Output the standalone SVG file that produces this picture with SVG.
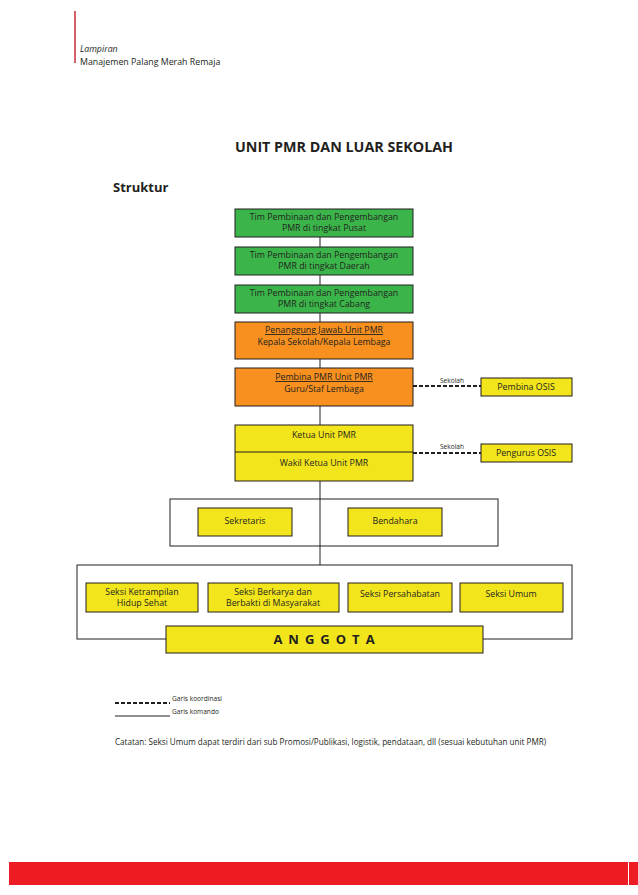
<svg xmlns="http://www.w3.org/2000/svg" width="638" height="895" viewBox="0 0 638 895">
<style>
text{font-family:"Open Sans","Noto Sans","DejaVu Sans",sans-serif;fill:#231f20}
.n{stroke:#231f20;stroke-width:1}
.g{fill:#3bb54a}
.o{fill:#f7901e}
.y{fill:#f3e51b}
.t{font-size:8.8px;text-anchor:middle}
.s{font-size:6.6px}
.c{fill:none;stroke:#231f20;stroke-width:1}
.d{fill:none;stroke:#231f20;stroke-width:2;stroke-dasharray:4,2}
</style>
<rect width="638" height="895" fill="#fff"/>
<rect x="74" y="11" width="2" height="52" fill="#d6616b"/>
<text x="80" y="52" font-size="8.8" font-style="italic">Lampiran</text>
<text x="80" y="65" font-size="8.8">Manajemen Palang Merah Remaja</text>
<rect x="9" y="862" width="619" height="23" fill="#ed1c24"/>
<rect x="629" y="862" width="9" height="23" fill="#ed1c24"/>
<text x="344" y="152" font-size="14.3" font-weight="bold" text-anchor="middle">UNIT PMR DAN LUAR SEKOLAH</text>
<text x="113" y="192" font-size="13" font-weight="bold">Struktur</text>

<g id="connectors">
<line class="c" x1="320" y1="237" x2="320" y2="565"/>
<line class="d" x1="413" y1="386" x2="481" y2="386"/>
<line class="d" x1="413" y1="453" x2="481" y2="453"/>
<text x="452" y="383" class="s" text-anchor="middle">Sekolah</text>
<text x="452" y="449" class="s" text-anchor="middle">Sekolah</text>
</g>

<g id="pusat"><rect class="n g" x="235" y="209" width="178" height="28"/>
<text class="t" x="324" y="220">Tim Pembinaan dan Pengembangan</text><text class="t" x="324" y="231">PMR di tingkat Pusat</text></g>
<g id="daerah"><rect class="n g" x="235" y="247" width="178" height="28"/>
<text class="t" x="324" y="258">Tim Pembinaan dan Pengembangan</text><text class="t" x="324" y="269">PMR di tingkat Daerah</text></g>
<g id="cabang"><rect class="n g" x="235" y="285" width="178" height="28"/>
<text class="t" x="324" y="296">Tim Pembinaan dan Pengembangan</text><text class="t" x="324" y="307">PMR di tingkat Cabang</text></g>
<g id="penanggung"><rect class="n o" x="235" y="322" width="178" height="37"/>
<text class="t" x="324" y="333" text-decoration="underline">Penanggung Jawab Unit PMR</text><text class="t" x="324" y="345">Kepala Sekolah/Kepala Lembaga</text></g>
<g id="pembina"><rect class="n o" x="235" y="368" width="178" height="38"/>
<text class="t" x="324" y="380" text-decoration="underline">Pembina PMR Unit PMR</text><text class="t" x="324" y="392">Guru/Staf Lembaga</text></g>
<g id="pembina-osis"><rect class="n y" x="481" y="378" width="91" height="18"/>
<text class="t" x="526" y="390">Pembina OSIS</text></g>
<g id="ketua"><rect class="n y" x="235" y="425" width="178" height="56"/>
<line class="c" x1="235" y1="452" x2="413" y2="452"/>
<text class="t" x="324" y="438">Ketua Unit PMR</text><text class="t" x="324" y="466">Wakil Ketua Unit PMR</text></g>
<g id="pengurus-osis"><rect class="n y" x="481" y="444" width="91" height="18"/>
<text class="t" x="526" y="456">Pengurus OSIS</text></g>

<g id="sekbend"><rect class="c" x="170" y="499" width="328" height="47"/>
<rect class="n y" x="198" y="508" width="94" height="28"/><text class="t" x="245" y="524">Sekretaris</text>
<rect class="n y" x="348" y="508" width="94" height="28"/><text class="t" x="395" y="524">Bendahara</text></g>

<g id="seksi"><rect class="c" x="77" y="565" width="495" height="74"/>
<rect class="n y" x="86" y="583" width="112" height="29"/><text class="t" x="142" y="595">Seksi Ketrampilan</text><text class="t" x="142" y="606">Hidup Sehat</text>
<rect class="n y" x="208" y="583" width="131" height="29"/><text class="t" x="273" y="595">Seksi Berkarya dan</text><text class="t" x="273" y="606">Berbakti di Masyarakat</text>
<rect class="n y" x="348" y="583" width="104" height="29"/><text class="t" x="400" y="597">Seksi Persahabatan</text>
<rect class="n y" x="460" y="583" width="103" height="29"/><text class="t" x="511" y="597">Seksi Umum</text></g>
<g id="anggota"><rect class="n y" x="166" y="626" width="317" height="27"/>
<text x="327" y="644" font-size="13" font-weight="bold" letter-spacing="6" text-anchor="middle">ANGGOTA</text></g>

<g id="legend">
<line class="d" x1="115" y1="703" x2="170" y2="703"/>
<line class="c" x1="115" y1="716" x2="170" y2="716"/>
<text x="172" y="701" class="s">Garis koordinasi</text>
<text x="172" y="714" class="s">Garis komando</text>
<text x="115" y="745" font-size="8.1">Catatan: Seksi Umum dapat terdiri dari sub Promosi/Publikasi, logistik, pendataan, dll (sesuai kebutuhan unit PMR)</text>
</g>
</svg>
